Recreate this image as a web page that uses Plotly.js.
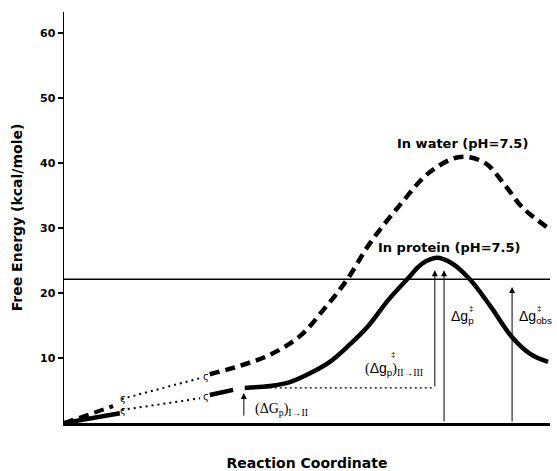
<!DOCTYPE html>
<html>
<head>
<meta charset="utf-8">
<script src="https://cdn.plot.ly/plotly-3.0.1.min.js"></script>
<style>body{margin:0;padding:0;background:#fff;}</style>
</head>
<body>
<div id="chart" style="width:557px;height:471px;"></div>
<script>
// ---- data (reaction coordinate in arbitrary units 0..100, free energy in kcal/mole) ----
const waterStartX = [0, 10.1];
const waterStartY = [0, 2.6];
const waterDotX = [11.9, 28.0];
const waterDotY = [3.7, 6.9];
const waterMainX = [30.0, 36.2, 42.4, 48.6, 53.7, 58.2, 63.0, 69.1, 75.3, 81.5, 86.6, 90.7, 94.4, 99.6];
const waterMainY = [7.5, 8.8, 10.5, 13.4, 17.7, 22.0, 27.7, 33.5, 38.6, 40.9, 40.0, 36.6, 33.1, 30.0];

const proteinStartX = [0, 11.5];
const proteinStartY = [0, 1.5];
const proteinDotX = [11.9, 28.0];
const proteinDotY = [2.0, 3.8];
const proteinSegX = [30.0, 34.8];
const proteinSegY = [4.3, 5.1];
const proteinMainX = [37.2, 42.4, 46.5, 50.5, 54.7, 58.7, 62.7, 66.7, 70.6, 73.7, 76.7, 79.7, 83.5, 87.7, 92.2, 96.0, 99.6];
const proteinMainY = [5.4, 5.7, 6.3, 7.6, 9.4, 12.0, 15.0, 18.9, 22.1, 24.5, 25.4, 24.6, 22.1, 18.0, 13.2, 10.6, 9.4];

const obsLevel = 22.1;           // observed barrier level (horizontal line)
const stateIILevel = 5.4;        // level of state II
const dottedLevelX = [37.2, 76.3];
// arrows: x, from y, to y
const arrowX = [37.0, 76.3, 78.2, 92.2];
const arrowFrom = [0.9, 5.4, 0, 0];
const arrowTo = [4.6, 23.5, 23.5, 20.9];

const breakX = [12.1, 12.1, 29.3, 29.3];
const breakY = [3.8, 1.9, 7.1, 4.0];

const yTicks = [10, 20, 30, 40, 50, 60];
const yTickText = ['10', '20', '30', '40', '50', '60'];

// ---- traces ----
const dashStyle = '10px,6px';
const traces = [
  {x: waterStartX, y: waterStartY, mode: 'lines', line: {color: '#000', width: 4, dash: dashStyle}},
  {x: waterDotX, y: waterDotY, mode: 'lines', line: {color: '#000', width: 2, dash: '2px,4px'}},
  {x: waterMainX, y: waterMainY, mode: 'lines', line: {color: '#000', width: 4.5, dash: dashStyle, shape: 'spline', smoothing: 1}},
  {x: proteinStartX, y: proteinStartY, mode: 'lines', line: {color: '#000', width: 4.5}},
  {x: proteinDotX, y: proteinDotY, mode: 'lines', line: {color: '#000', width: 2, dash: '2px,4px'}},
  {x: proteinSegX, y: proteinSegY, mode: 'lines', line: {color: '#000', width: 4.5}},
  {x: proteinMainX, y: proteinMainY, mode: 'lines', line: {color: '#000', width: 4.5, shape: 'spline', smoothing: 1}},
  {x: [0, 100], y: [obsLevel, obsLevel], mode: 'lines', line: {color: '#000', width: 1.5}},
  {x: dottedLevelX, y: [stateIILevel, stateIILevel], mode: 'lines', line: {color: '#000', width: 1.2, dash: '2px,3px'}}
];

const annotations = [];
for (let i = 0; i < arrowX.length; i++) {
  annotations.push({
    x: arrowX[i], y: arrowTo[i], ax: arrowX[i], ay: arrowFrom[i],
    xref: 'x', yref: 'y', axref: 'x', ayref: 'y',
    text: '', showarrow: true, arrowhead: 2, arrowsize: 1.2, arrowwidth: 1, arrowcolor: '#000'
  });
}
for (let i = 0; i < breakX.length; i++) {
  annotations.push({x: breakX[i], y: breakY[i], xref: 'x', yref: 'y', text: 'ς', showarrow: false, yanchor: 'middle',
    font: {family: 'DejaVu Sans', size: 10, color: '#000'}});
}
const serif = "font-family:'Liberation Serif'";
const txt = (x, y, text, size, family, anchor) => ({
  x: x, y: y, xref: 'x', yref: 'y', xanchor: anchor || 'left', yanchor: 'middle', showarrow: false, text: text,
  font: {family: family || 'Liberation Sans', size: size, color: '#000'}
});
annotations.push(
  {x: 0.959, y: 0.679, xref: 'paper', yref: 'paper', text: 'In water (pH=7.5)', showarrow: false, xanchor: 'right', yanchor: 'middle',
   font: {family: 'DejaVu Sans', size: 13, color: '#000', weight: 'bold'}},
  {x: 0.944, y: 0.428, xref: 'paper', yref: 'paper', text: 'In protein (pH=7.5)', showarrow: false, xanchor: 'right', yanchor: 'middle',
   font: {family: 'DejaVu Sans', size: 13, color: '#000', weight: 'bold'}},
  // (ΔGp)I→II
  txt(38.8, 2.1, '(ΔG<sub>p</sub>)<sub>I→II</sub>', 14, 'Liberation Serif'),
  // (Δg‡p)II→III
  txt(61.5, 8.3, '<span style="' + serif + '">(</span>Δg<sub>p</sub><span style="' + serif + '">)<sub>II→III</sub></span>', 14),
  txt(66.8, 10.6, '‡', 8, 'Liberation Sans'),
  // Δg‡p
  txt(79.3, 16.3, 'Δg<sub>p</sub>', 14),
  txt(83.0, 17.6, '‡', 8, 'Liberation Sans'),
  // Δg‡obs
  txt(93.2, 16.3, 'Δg<sub>obs</sub>', 14),
  txt(96.9, 17.6, '‡', 8, 'Liberation Sans')
);

const layout = {
  width: 557, height: 471,
  margin: {l: 64, r: 7, t: 12, b: 48},
  paper_bgcolor: '#fff', plot_bgcolor: '#fff',
  showlegend: false,
  xaxis: {
    range: [0, 100], showgrid: false, zeroline: false, showticklabels: false, ticks: '',
    showline: true, linecolor: '#000', linewidth: 2.5,
    title: {text: 'Reaction Coordinate', standoff: 34, font: {family: 'DejaVu Sans', size: 14, color: '#000', weight: 'bold'}}
  },
  yaxis: {
    range: [0, 63.2], showgrid: false, zeroline: false,
    showline: true, linecolor: '#000', linewidth: 1.5,
    ticks: 'outside', ticklen: 5, tickwidth: 1.5, tickcolor: '#000',
    tickvals: yTicks, ticktext: yTickText,
    tickfont: {family: 'DejaVu Sans', size: 11, color: '#000', weight: 'bold'},
    title: {text: 'Free Energy (kcal/mole)', standoff: 14, font: {family: 'DejaVu Sans', size: 14, color: '#000', weight: 'bold'}}
  },
  annotations: annotations
};

Plotly.newPlot('chart', traces, layout, {staticPlot: true, displayModeBar: false});
</script>
</body>
</html>
